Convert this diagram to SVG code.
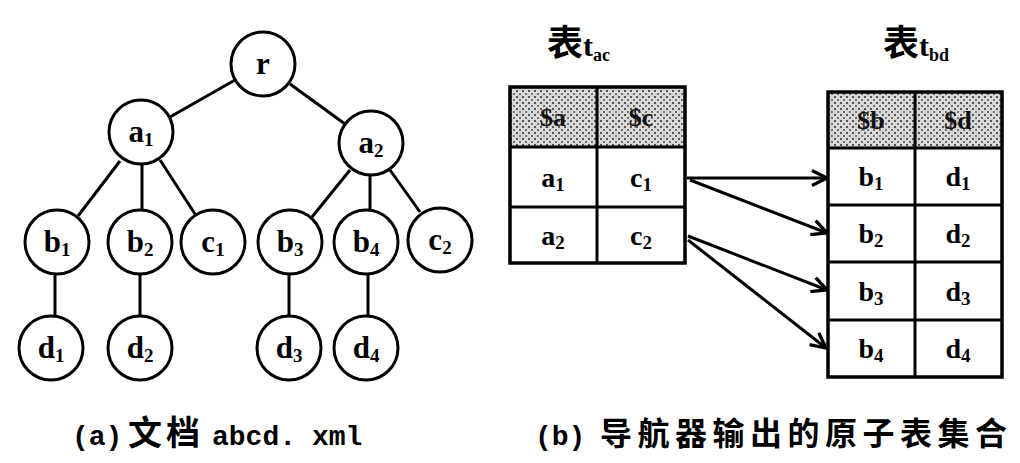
<svg xmlns="http://www.w3.org/2000/svg" width="1020" height="463" viewBox="0 0 1020 463">
  <defs>
    <style>
      .node circle { fill: #fff; stroke: #000; stroke-width: 3; }
      .lbl { font-family: "Liberation Serif", "DejaVu Serif", serif; font-weight: bold; font-size: 31px; fill: #000; text-anchor: middle; }
      .sub { font-size: 19px; }
      .edge { stroke: #000; stroke-width: 3; fill: none; }
      .arrow { stroke: #000; stroke-width: 3; fill: none; marker-end: url(#open); }
      .frame { fill: none; stroke: #000; stroke-width: 3.5; }
      .grid { stroke: #000; stroke-width: 3; }
      .head { fill: url(#speckle); }
      .cell { font-family: "Liberation Serif", "DejaVu Serif", serif; font-weight: bold; font-size: 28px; fill: #000; text-anchor: middle; }
      .hdr { font-family: "Liberation Serif", "DejaVu Serif", serif; font-weight: bold; font-size: 26px; fill: #111; text-anchor: middle; }
      .title { font-family: "Liberation Serif", "Noto Sans CJK SC", serif; font-weight: bold; fill: #000; }
      .cap { font-family: "Liberation Mono", "Noto Sans CJK SC", monospace; font-weight: bold; font-size: 28px; fill: #000; }
      .cjk { font-family: "Noto Sans CJK SC", sans-serif; }
    </style>
    <pattern id="speckle" width="6" height="6" patternUnits="userSpaceOnUse">
      <rect width="6" height="6" fill="#d8d8d8"/>
      <rect x="0" y="0" width="2" height="2" fill="#555"/>
      <rect x="3" y="3" width="2" height="2" fill="#777"/>
    </pattern>
    <marker id="open" viewBox="0 0 12 12" refX="11" refY="6" markerWidth="18" markerHeight="18" markerUnits="userSpaceOnUse" orient="auto">
      <path d="M1,1 L11,6 L1,11" fill="none" stroke="#000" stroke-width="2.2"/>
    </marker>
  </defs>

  <!-- tree edges -->
  <g id="tree-edges">
    <line class="edge" x1="235" y1="80" x2="170" y2="117"/>
    <line class="edge" x1="290" y1="84" x2="345" y2="124"/>
    <line class="edge" x1="120" y1="161" x2="78" y2="216"/>
    <line class="edge" x1="142" y1="164" x2="142" y2="210"/>
    <line class="edge" x1="160" y1="160" x2="195" y2="214"/>
    <line class="edge" x1="350" y1="170" x2="312" y2="217"/>
    <line class="edge" x1="370" y1="175" x2="370" y2="210"/>
    <line class="edge" x1="390" y1="170" x2="420" y2="212"/>
    <line class="edge" x1="55" y1="274" x2="55" y2="316"/>
    <line class="edge" x1="140" y1="274" x2="140" y2="316"/>
    <line class="edge" x1="289" y1="274" x2="289" y2="316"/>
    <line class="edge" x1="368" y1="274" x2="368" y2="316"/>
  </g>

  <!-- tree nodes -->
  <g id="n-r" class="node"><circle cx="263" cy="64" r="32"/><text class="lbl" x="263" y="74">r</text></g>
  <g id="n-a1" class="node"><circle cx="141" cy="132" r="32"/><text class="lbl" x="141" y="142">a<tspan class="sub" dy="4">1</tspan></text></g>
  <g id="n-a2" class="node"><circle cx="371" cy="143" r="32"/><text class="lbl" x="371" y="153">a<tspan class="sub" dy="4">2</tspan></text></g>
  <g id="n-b1" class="node"><circle cx="57" cy="242" r="32"/><text class="lbl" x="57" y="252">b<tspan class="sub" dy="4">1</tspan></text></g>
  <g id="n-b2" class="node"><circle cx="140" cy="242" r="32"/><text class="lbl" x="140" y="252">b<tspan class="sub" dy="4">2</tspan></text></g>
  <g id="n-c1" class="node"><circle cx="213" cy="242" r="32"/><text class="lbl" x="213" y="252">c<tspan class="sub" dy="4">1</tspan></text></g>
  <g id="n-b3" class="node"><circle cx="290" cy="242" r="32"/><text class="lbl" x="290" y="252">b<tspan class="sub" dy="4">3</tspan></text></g>
  <g id="n-b4" class="node"><circle cx="366" cy="242" r="32"/><text class="lbl" x="366" y="252">b<tspan class="sub" dy="4">4</tspan></text></g>
  <g id="n-c2" class="node"><circle cx="440" cy="240" r="32"/><text class="lbl" x="440" y="250">c<tspan class="sub" dy="4">2</tspan></text></g>
  <g id="n-d1" class="node"><circle cx="51" cy="348" r="32"/><text class="lbl" x="51" y="358">d<tspan class="sub" dy="4">1</tspan></text></g>
  <g id="n-d2" class="node"><circle cx="140" cy="348" r="32"/><text class="lbl" x="140" y="358">d<tspan class="sub" dy="4">2</tspan></text></g>
  <g id="n-d3" class="node"><circle cx="289" cy="348" r="32"/><text class="lbl" x="289" y="358">d<tspan class="sub" dy="4">3</tspan></text></g>
  <g id="n-d4" class="node"><circle cx="366" cy="348" r="32"/><text class="lbl" x="366" y="358">d<tspan class="sub" dy="4">4</tspan></text></g>

  <!-- atom table t_ac -->
  <g id="table-tac">
    <text class="title" x="547" y="56"><tspan class="cjk" font-size="36">表</tspan><tspan font-size="30">t</tspan><tspan font-size="18" dy="5">ac</tspan></text>
    <rect class="head" x="510" y="87" width="175" height="60"/>
    <rect class="frame" x="510" y="87" width="175" height="176"/>
    <line class="grid" x1="510" y1="147" x2="685" y2="147"/>
    <line class="grid" x1="510" y1="207" x2="685" y2="207"/>
    <line class="grid" x1="597" y1="87" x2="597" y2="263"/>
    <text class="hdr" x="553" y="126">$a</text>
    <text class="hdr" x="641" y="126">$c</text>
    <text class="cell" x="553" y="187">a<tspan class="sub" dy="4">1</tspan></text>
    <text class="cell" x="641" y="187">c<tspan class="sub" dy="4">1</tspan></text>
    <text class="cell" x="553" y="245">a<tspan class="sub" dy="4">2</tspan></text>
    <text class="cell" x="641" y="245">c<tspan class="sub" dy="4">2</tspan></text>
  </g>

  <!-- atom table t_bd -->
  <g id="table-tbd">
    <text class="title" x="883" y="56"><tspan class="cjk" font-size="36">表</tspan><tspan font-size="30">t</tspan><tspan font-size="18" dy="5">bd</tspan></text>
    <rect class="head" x="828" y="92" width="174" height="56"/>
    <rect class="frame" x="828" y="92" width="174" height="285"/>
    <line class="grid" x1="828" y1="148" x2="1002" y2="148"/>
    <line class="grid" x1="828" y1="205" x2="1002" y2="205"/>
    <line class="grid" x1="828" y1="262" x2="1002" y2="262"/>
    <line class="grid" x1="828" y1="320" x2="1002" y2="320"/>
    <line class="grid" x1="915" y1="92" x2="915" y2="377"/>
    <text class="hdr" x="871" y="129">$b</text>
    <text class="hdr" x="958" y="129">$d</text>
    <text class="cell" x="871" y="186">b<tspan class="sub" dy="4">1</tspan></text>
    <text class="cell" x="958" y="186">d<tspan class="sub" dy="4">1</tspan></text>
    <text class="cell" x="871" y="243">b<tspan class="sub" dy="4">2</tspan></text>
    <text class="cell" x="958" y="243">d<tspan class="sub" dy="4">2</tspan></text>
    <text class="cell" x="871" y="301">b<tspan class="sub" dy="4">3</tspan></text>
    <text class="cell" x="958" y="301">d<tspan class="sub" dy="4">3</tspan></text>
    <text class="cell" x="871" y="358">b<tspan class="sub" dy="4">4</tspan></text>
    <text class="cell" x="958" y="358">d<tspan class="sub" dy="4">4</tspan></text>
  </g>

  <!-- row mapping arrows -->
  <g id="connectors">
    <line class="arrow" x1="687" y1="178" x2="827" y2="178"/>
    <line class="arrow" x1="690" y1="180" x2="827" y2="233"/>
    <line class="arrow" x1="688" y1="236" x2="827" y2="290"/>
    <line class="arrow" x1="688" y1="240" x2="826" y2="348"/>
  </g>

  <!-- captions -->
  <g id="captions">
    <text class="cap" y="445"><tspan x="72">(a)</tspan><tspan class="cjk" x="128" font-size="34" letter-spacing="4">文档</tspan><tspan x="212">abcd.</tspan><tspan x="312">xml</tspan></text>
    <text class="cap" y="445"><tspan x="535">(b)</tspan><tspan class="cjk" x="600" font-size="32" letter-spacing="5.5">导航器输出的原子表集合</tspan></text>
  </g>
</svg>
